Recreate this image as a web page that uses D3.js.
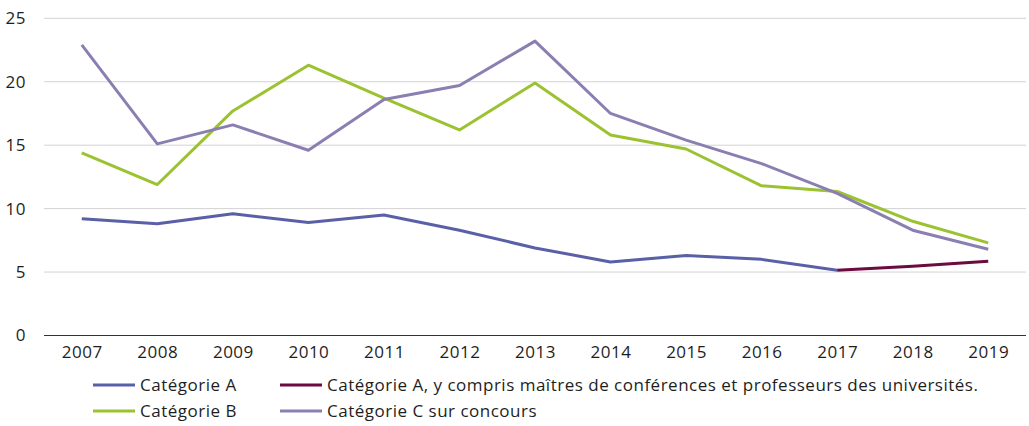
<!DOCTYPE html>
<html>
<head>
<meta charset="utf-8">
<script src="https://cdn.jsdelivr.net/npm/d3@7"></script>
<style>
  body { margin: 0; background: #fff; }
  text { font-family: "Open Sans", "Noto Sans", sans-serif; fill: #1e1e1e; letter-spacing: 0.5px; }
</style>
</head>
<body>
<svg id="chart" width="1029" height="426"></svg>
<script>
// data
var years = ["2007","2008","2009","2010","2011","2012","2013","2014","2015","2016","2017","2018","2019"];
var catA = [9.2, 8.8, 9.6, 8.9, 9.5, 8.3, 6.9, 5.8, 6.3, 6.0, 5.15, null, null];
var catAPlus = [null, null, null, null, null, null, null, null, null, null, 5.15, 5.45, 5.85];
var catB = [14.4, 11.9, 17.7, 21.3, 18.7, 16.2, 19.9, 15.8, 14.7, 11.8, 11.35, 9.0, 7.3];
var catC = [22.9, 15.1, 16.6, 14.6, 18.6, 19.7, 23.2, 17.5, 15.4, 13.55, 11.2, 8.3, 6.8];
var yTicks = [0, 5, 10, 15, 20, 25];

var series = [
  {name: "Catégorie A", values: catA, color: "#5a60a8"},
  {name: "Catégorie A, y compris maîtres de conférences et professeurs des universités.", values: catAPlus, color: "#6b0b3f"},
  {name: "Catégorie B", values: catB, color: "#9bc231"},
  {name: "Catégorie C sur concours", values: catC, color: "#8b7fb2"}
];

var svg = d3.select("#chart");
var margin = {left: 44, right: 3, top: 18.3, bottom: 90.5};
var width = 1029, height = 426;
var fs = 17;

var x = d3.scalePoint()
  .domain(years)
  .range([margin.left, width - margin.right])
  .padding(0.5);

var y = d3.scaleLinear()
  .domain([0, 25])
  .range([height - margin.bottom, margin.top]);

// gridlines
svg.append("g")
  .selectAll("line")
  .data(yTicks.filter(d => d > 0))
  .join("line")
  .attr("x1", margin.left)
  .attr("x2", width - margin.right)
  .attr("y1", d => y(d))
  .attr("y2", d => y(d))
  .attr("stroke", "#d3d3d3")
  .attr("stroke-width", 1);

// y labels
svg.append("g")
  .selectAll("text")
  .data(yTicks)
  .join("text")
  .attr("x", 26)
  .attr("y", d => y(d))
  .attr("dy", "0.35em")
  .attr("text-anchor", "end")
  .attr("font-size", fs)
  .text(d => d);

// x axis
var xAxis = svg.append("g")
  .attr("transform", `translate(0,${y(0)})`)
  .call(d3.axisBottom(x).tickSize(0).tickPadding(10).tickSizeOuter(0));
xAxis.select(".domain")
  .attr("d", `M${margin.left},0H${width - margin.right}`)
  .attr("stroke", "#333")
  .attr("stroke-width", 1.2);
xAxis.selectAll("text")
  .attr("font-size", fs)
  .attr("font-family", "\"Open Sans\", \"Noto Sans\", sans-serif")
  .attr("fill", "#1e1e1e");

var line = d3.line()
  .defined(d => d != null)
  .x((d, i) => x(years[i]))
  .y(d => y(d));

svg.append("g")
  .selectAll("path")
  .data(series)
  .join("path")
  .attr("fill", "none")
  .attr("stroke", d => d.color)
  .attr("stroke-width", 3)
  .attr("stroke-linejoin", "round")
  .attr("d", d => line(d.values));

// legend
var legendPos = [
  {x: 93, y: 385}, {x: 280, y: 385},
  {x: 93, y: 411}, {x: 280, y: 411}
];
var legend = svg.append("g")
  .selectAll("g")
  .data(series)
  .join("g")
  .attr("transform", (d, i) => `translate(${legendPos[i].x},${legendPos[i].y})`);
legend.append("line")
  .attr("x1", 0).attr("x2", 42)
  .attr("stroke", d => d.color)
  .attr("stroke-width", 3);
legend.append("text")
  .attr("x", 47)
  .attr("dy", "0.35em")
  .attr("font-size", fs)
  .text(d => d.name);
</script>
</body>
</html>
